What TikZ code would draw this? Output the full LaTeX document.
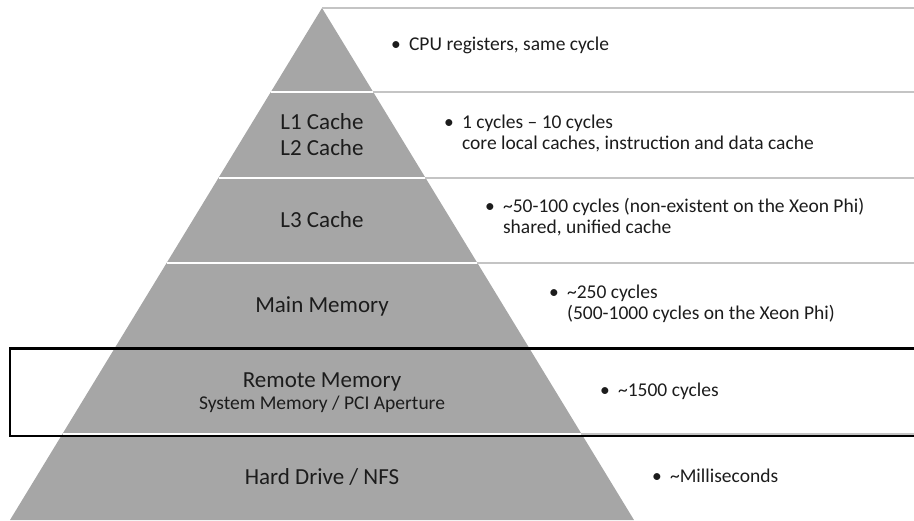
\documentclass[tikz,border=0pt]{standalone}
\usepackage{fontspec}
\setmainfont{Carlito}
\usetikzlibrary{positioning}
\definecolor{pyrgray}{HTML}{A6A6A6}
\definecolor{rulegray}{HTML}{C4C4C4}
\definecolor{inkgray}{HTML}{1C1C1C}
\newcommand{\bnote}[1]{\textbullet\hspace{0.42em}\begin{tabular}[t]{@{}l@{}}#1\end{tabular}}
\newcommand{\tld}{\char"007E\relax}

\begin{document}
\begin{tikzpicture}[x=1pt, y=-1pt,
    level/.style={font=\fontsize{23}{26}\selectfont, align=center, text=inkgray, inner sep=0pt},
    sublevel/.style={font=\fontsize{19.5}{21}\selectfont, text=inkgray, inner sep=0pt},
    note/.style={font=\fontsize{19.5}{20.5}\selectfont, anchor=west, text=inkgray, inner sep=0pt}
]
    \useasboundingbox (0,0) rectangle (914,520);
    % Pyramid
    \coordinate (apex) at (322,8);
    \coordinate (baseL) at (10,520);
    \coordinate (baseR) at (634,520);
    \fill[pyrgray] (apex) -- (baseR) -- (baseL) -- cycle;
    \draw[rulegray, line width=1.6pt] (apex) -- (914,8);
    % Separators
    \foreach \y in {92,178,263,348.5,434} {
        \draw[white, line width=1.6pt] ({322-0.6071*(\y-8)},\y) -- ({322+0.6071*(\y-8)},\y);
        \draw[rulegray, line width=1.6pt] ({322+0.6071*(\y-8)},\y) -- (914,\y);
    }
    % Levels
    \node[level] (l12) at (322,135) {L1 Cache\\L2 Cache};
    \node[level] (l3) at (322,220) {L3 Cache};
    \node[level] (mem) at (322,306) {Main Memory};
    \node[level] (remote) at (322,382) {Remote Memory};
    \node[sublevel, below=4pt of remote] (remsub) {System Memory / PCI Aperture};
    \node[level] (disk) at (322,477) {Hard Drive / NFS};
    % Notes
    \node[note] (n1) at (391,46) {\bnote{CPU registers, same cycle}};
    \node[note] (n2) at (444,135) {\bnote{1 cycles -- 10 cycles\\core local caches, instruction and data cache}};
    \node[note] (n3) at (485,219) {\bnote{\tld50-100 cycles (non-existent on the Xeon Phi)\\shared, unified cache}};
    \node[note] (n4) at (549,305) {\bnote{\tld250 cycles\\(500-1000 cycles on the Xeon Phi)}};
    \node[note] (n5) at (600,392) {\bnote{\tld1500 cycles}};
    \node[note] (n6) at (652,478) {\bnote{\tld Milliseconds}};
    % Highlight
    \draw[black, line width=2.4pt] (918,348.5) -- (10,348.5) -- (10,436) -- (918,436);
\end{tikzpicture}
\end{document}
